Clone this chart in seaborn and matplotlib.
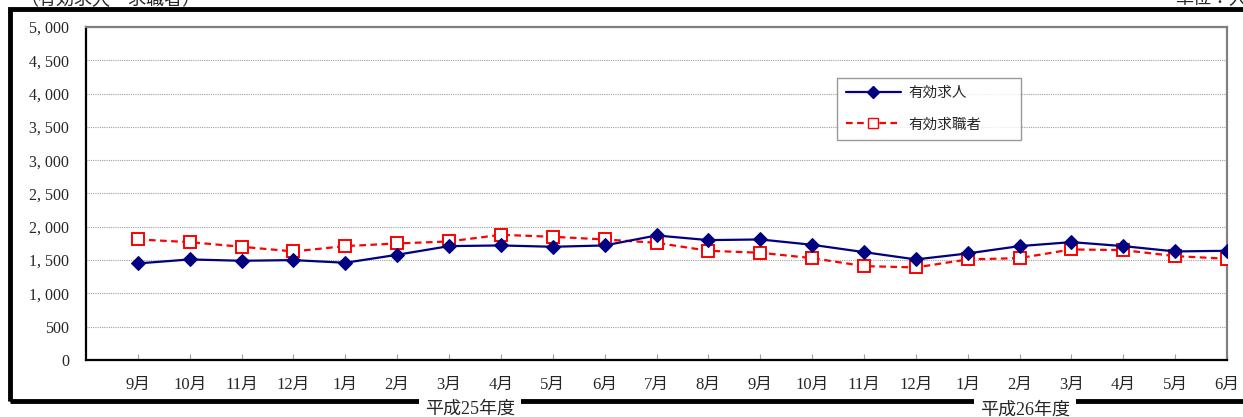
import matplotlib
matplotlib.use('Agg')
import matplotlib.pyplot as plt
import seaborn as sns
import pandas as pd
from matplotlib.patches import Rectangle
from matplotlib.lines import Line2D

months = ['9月', '10月', '11月', '12月', '1月', '2月', '3月', '4月', '5月', '6月', '7月',
          '8月', '9月', '10月', '11月', '12月', '1月', '2月', '3月', '4月', '5月', '6月']
job_offers = [1450, 1510, 1490, 1500, 1460, 1580, 1710, 1720, 1700, 1720, 1870,
              1800, 1810, 1730, 1620, 1510, 1600, 1710, 1770, 1710, 1630, 1640]
job_seekers = [1810, 1770, 1700, 1630, 1710, 1750, 1780, 1880, 1850, 1810, 1760,
               1640, 1610, 1530, 1410, 1390, 1510, 1530, 1660, 1650, 1560, 1520]
yticks = list(range(0, 5001, 500))

sns.set_style('white')
plt.rcParams['font.family'] = ['Liberation Serif', 'Noto Sans CJK JP', 'DejaVu Sans']

df = pd.DataFrame({'pos': range(len(months)), 'offers': job_offers, 'seekers': job_seekers})

fig = plt.figure(figsize=(12.43, 4.17), dpi=100)
ax = fig.add_axes([86 / 1243, 1 - 360 / 417, (1227 - 86) / 1243, (360 - 27) / 417])

sns.lineplot(data=df, x='pos', y='seekers', ax=ax, color='#ff0000', lw=1.6,
             linestyle=(0, (3, 2)), marker='s', markersize=9,
             markerfacecolor='white', markeredgecolor='#ff0000', markeredgewidth=1.4, zorder=3)
sns.lineplot(data=df, x='pos', y='offers', ax=ax, color='#000080', lw=1.6,
             marker='D', markersize=7, markerfacecolor='#000080',
             markeredgecolor='#000080', zorder=4)

ax.set_xlim(-1, len(months) - 1)
ax.set_ylim(0, 5000)
ax.set_yticks(yticks)
ax.set_yticklabels([f'{v:,}'.replace(',', ', ') for v in yticks], fontsize=11.5)
ax.set_xticks(range(len(months)))
ax.set_xticklabels(months, fontsize=12)
ax.set_xlabel('')
ax.set_ylabel('')
ax.grid(axis='y', color='#a0a0a0', linestyle=(0, (1, 1)), lw=0.8)
ax.tick_params(axis='x', length=4, color='#a0a0a0', pad=12, direction='in', bottom=True)
ax.tick_params(axis='y', length=0, pad=12)
for s in ['left', 'bottom']:
    ax.spines[s].set_color('black')
    ax.spines[s].set_linewidth(1.6)
for s in ['top', 'right']:
    ax.spines[s].set_color('#808080')
    ax.spines[s].set_linewidth(1.6)

handles = [
    Line2D([], [], color='#000080', lw=1.6, marker='D', markersize=6),
    Line2D([], [], color='#ff0000', lw=1.6, linestyle=(0, (3, 2)), marker='s', markersize=7,
           markerfacecolor='white', markeredgecolor='#ff0000'),
]
lx0, lx1, ly1 = (837 - 86) / 1141, (1021 - 86) / 1141, (360 - 78) / 333
leg = ax.legend(handles, ['有効求人', '有効求職者'], loc='upper left', mode='expand',
                bbox_to_anchor=(lx0, ly1 - 0.2, lx1 - lx0, 0.2),
                frameon=True, fancybox=False, fontsize=10.5, handlelength=3.8,
                borderpad=0.6, borderaxespad=0, labelspacing=1.25, handletextpad=0.5)
leg.get_frame().set_edgecolor('#808080')
leg.get_frame().set_linewidth(1.0)

# outer frame
fig.patches.append(Rectangle((9.5 / 1243, 1 - 401 / 417), 1.1, (401 - 9) / 417,
                             transform=fig.transFigure, fill=False, edgecolor='black',
                             lw=3.5, zorder=0))

fig.text(470 / 1243, 1 - 409 / 417, '平成25年度', ha='center', va='center', fontsize=13,
         bbox=dict(facecolor='white', edgecolor='none', pad=4))
fig.text(1025 / 1243, 1 - 410 / 417, '平成26年度', ha='center', va='center', fontsize=13,
         bbox=dict(facecolor='white', edgecolor='none', pad=4))
fig.text(20 / 1243, 1.0, '（有効求人・求職者）', ha='left', va='center', fontsize=13)
fig.text(1175 / 1243, 1.0, '単位：人', ha='left', va='center', fontsize=13)

fig.savefig('out.png', dpi=100)
